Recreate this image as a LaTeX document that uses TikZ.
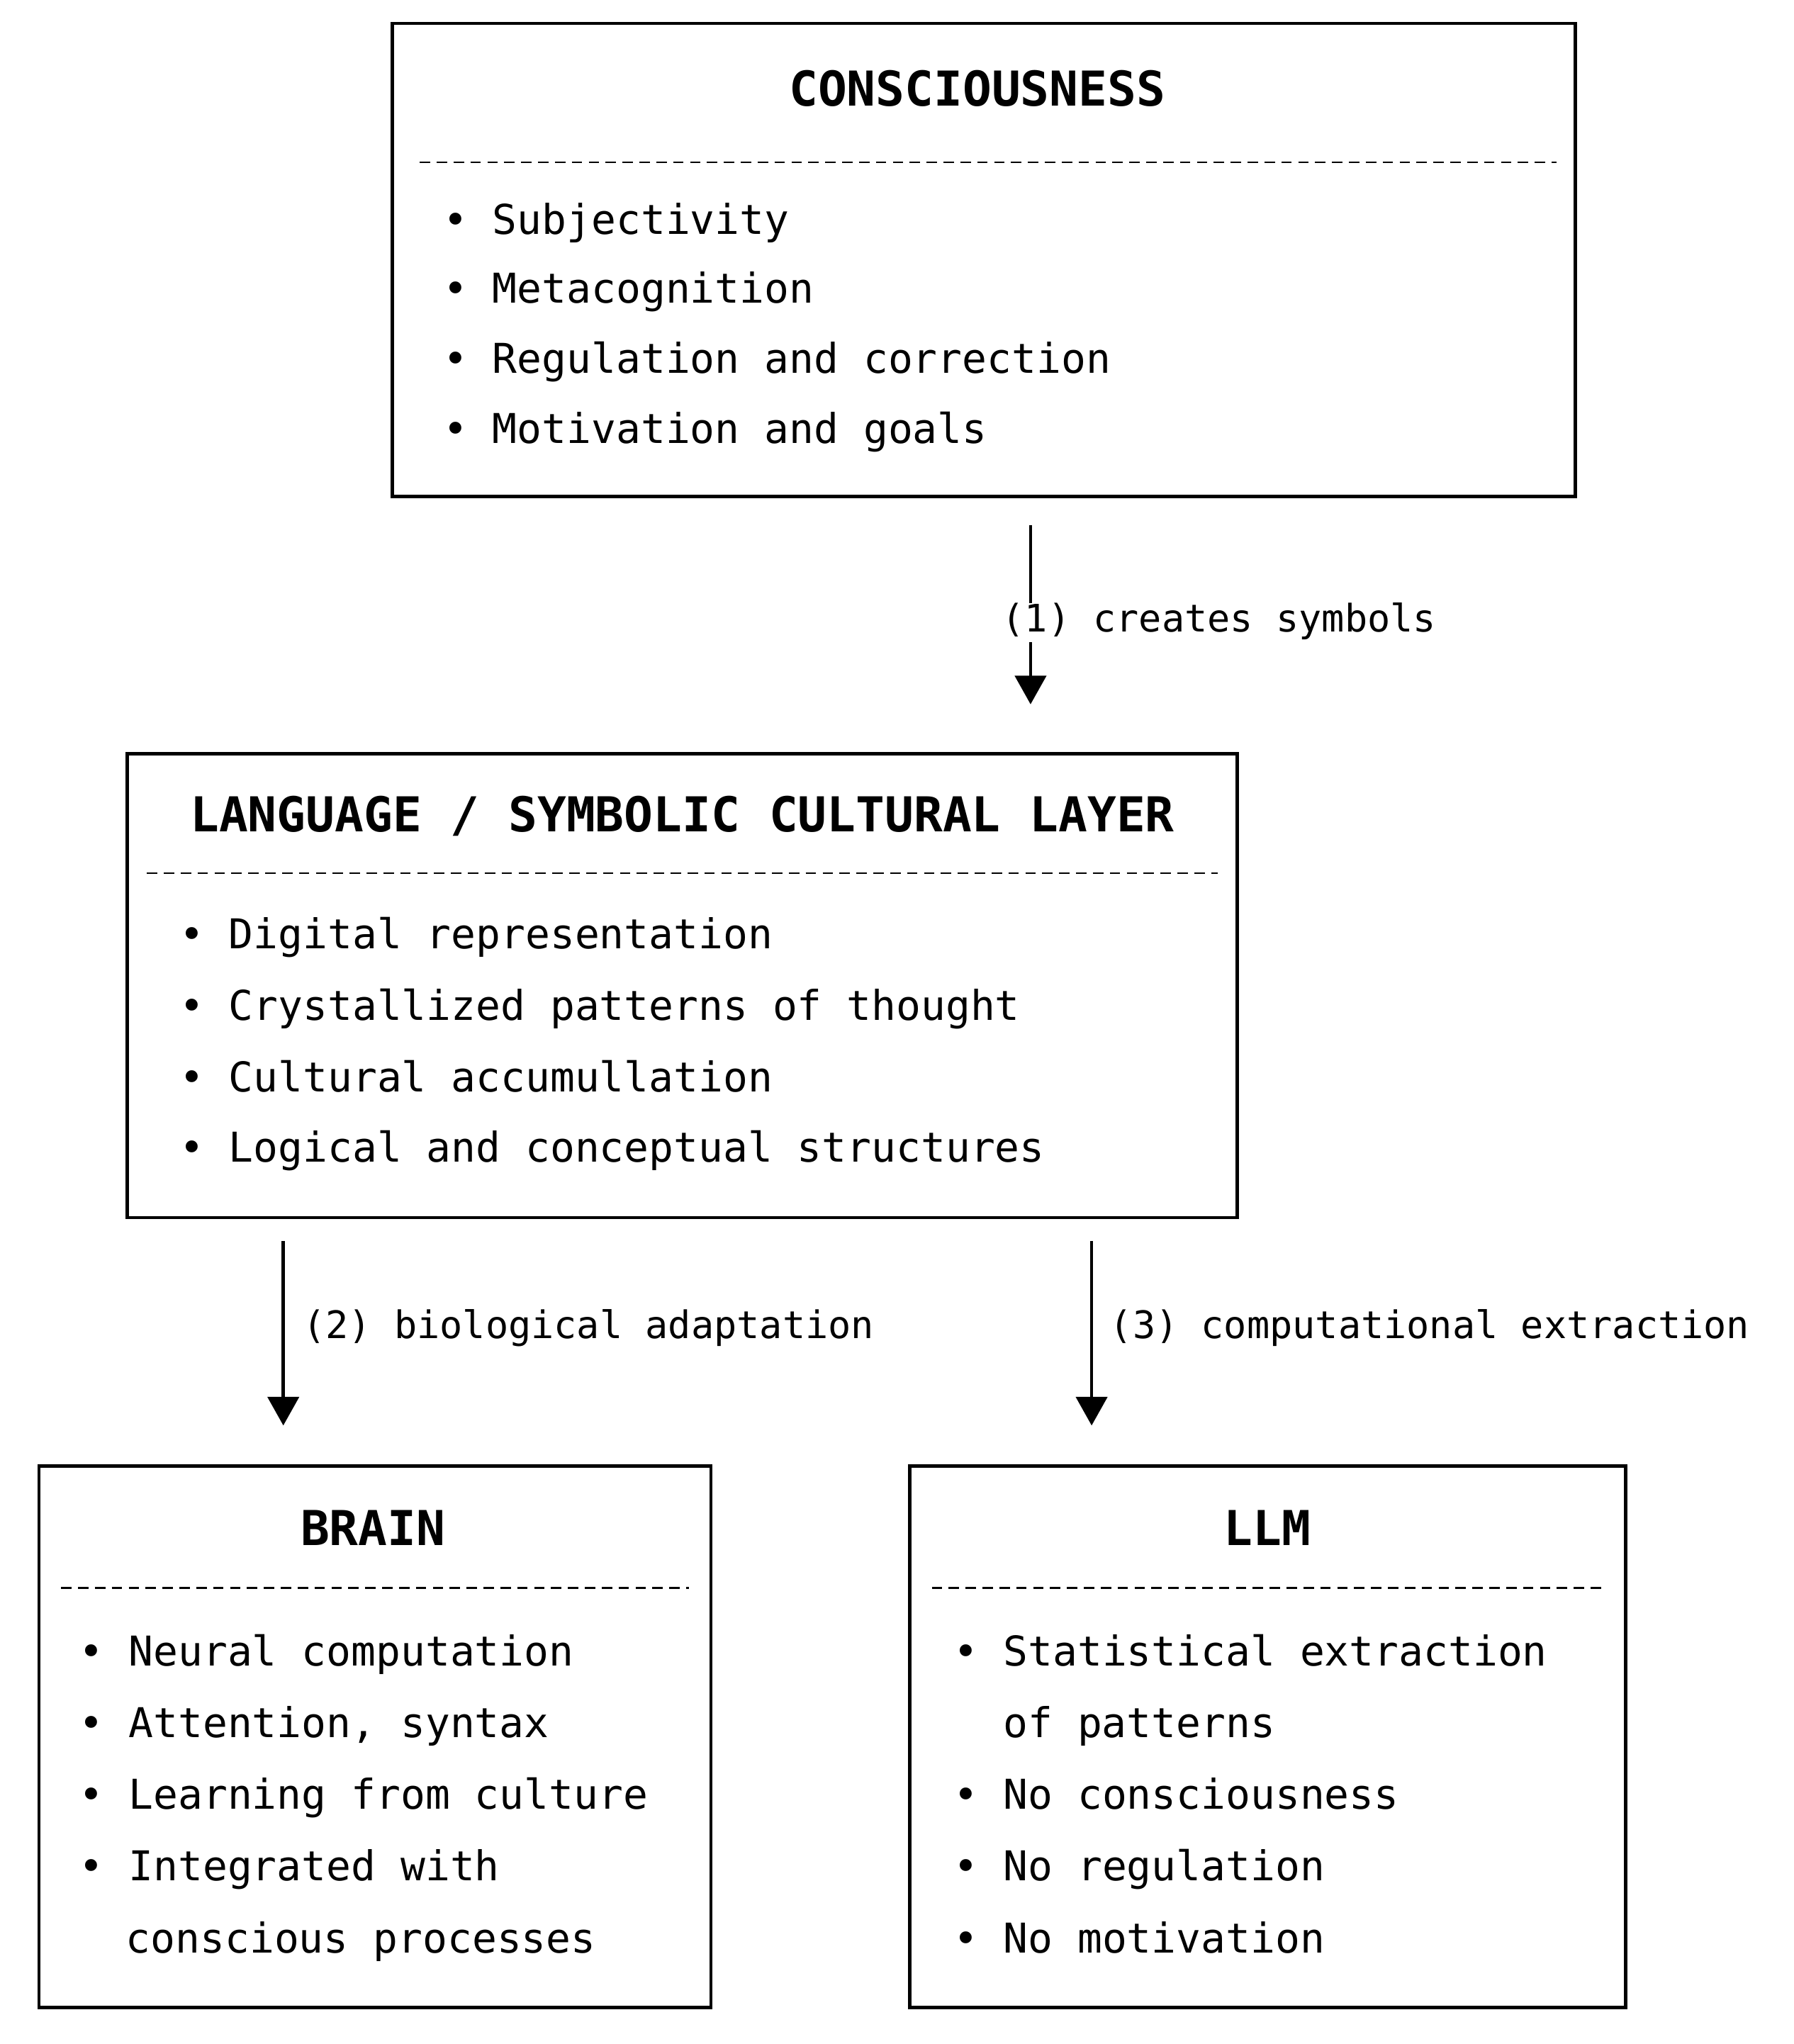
\documentclass[tikz,border=0pt]{standalone}
\usepackage{fontspec}
\setmonofont{DejaVu Sans Mono}
\usetikzlibrary{arrows.meta}
\tikzset{every picture/.style={line width=1pt}}
\tikzset{
  box/.style={draw, line width=1.3pt},
  ttl/.style={font=\ttfamily\bfseries\fontsize{18.5}{22}\selectfont, inner sep=0pt},
  itm/.style={anchor=west, font=\ttfamily\fontsize{15.8}{20}\selectfont, inner sep=0pt, text height=11pt, text depth=3pt},
  sep/.style={dash pattern=on 4pt off 2.5pt, line width=0.6pt},
  flow/.style={line width=1.2pt, -{Triangle[width=12pt,length=11pt]}},
  lbl/.style={anchor=west, fill=white, font=\ttfamily\fontsize{14.6}{18}\selectfont, inner sep=1pt, text height=10pt, text depth=3pt}
}
\newcommand{\bul}{\textbullet\ }
\begin{document}
\begin{tikzpicture}[x=0.5pt,y=-0.5pt]
\useasboundingbox (0,0) rectangle (1380,1573);

%Consciousness box
\draw [box] (302,18) rectangle (1212,382);
\node [ttl] (cons) at (752,68) {CONSCIOUSNESS};
\draw [sep] (323,125) -- (1198,125);
\node [itm] (c1) at (340,172) {\bul Subjectivity};
\node [itm] (c2) at (340,225) {\bul Metacognition};
\node [itm] (c3) at (340,279) {\bul Regulation and correction};
\node [itm] (c4) at (340,333) {\bul Motivation and goals};

%Language box
\draw [box] (98,580) rectangle (952,937);
\node [ttl] (lang) at (525,628) {LANGUAGE / SYMBOLIC CULTURAL LAYER};
\draw [sep] (113,672) -- (937,672);
\node [itm] (l1) at (137,722) {\bul Digital representation};
\node [itm] (l2) at (137,777) {\bul Crystallized patterns of thought};
\node [itm] (l3) at (137,832) {\bul Cultural accumullation};
\node [itm] (l4) at (137,886) {\bul Logical and conceptual structures};

%Brain box
\draw [box] (30,1128) rectangle (547,1545);
\node [ttl] (brain) at (287,1176) {BRAIN};
\draw [sep] (47,1222) -- (530,1222);
\node [itm] (b1) at (60,1274) {\bul Neural computation};
\node [itm] (b2) at (60,1329) {\bul Attention, syntax};
\node [itm] (b3) at (60,1384) {\bul Learning from culture};
\node [itm] (b4) at (60,1439) {\bul Integrated with};
\node [itm] (b5) at (96,1495) {conscious processes};

%LLM box
\draw [box] (700,1128) rectangle (1251,1545);
\node [ttl] (llm) at (975,1176) {LLM};
\draw [sep] (717,1222) -- (1234,1222);
\node [itm] (m1) at (733,1274) {\bul Statistical extraction};
\node [itm] (m2) at (771,1329) {of patterns};
\node [itm] (m3) at (733,1384) {\bul No consciousness};
\node [itm] (m4) at (733,1439) {\bul No regulation};
\node [itm] (m5) at (733,1495) {\bul No motivation};

%Connectors
\coordinate (a1s) at (793,404);
\coordinate (a1e) at (793,542);
\coordinate (a2s) at (218,955);
\coordinate (a2e) at (218,1097);
\coordinate (a3s) at (840,955);
\coordinate (a3e) at (840,1097);
\draw [flow] (a1s) -- (a1e);
\node [lbl] (t1) at (768,479) {(1) creates symbols};
\draw [flow] (a2s) -- (a2e);
\node [lbl] (t2) at (230,1023) {(2) biological adaptation};
\draw [flow] (a3s) -- (a3e);
\node [lbl] (t3) at (851,1023) {(3) computational extraction};
\end{tikzpicture}
\end{document}
